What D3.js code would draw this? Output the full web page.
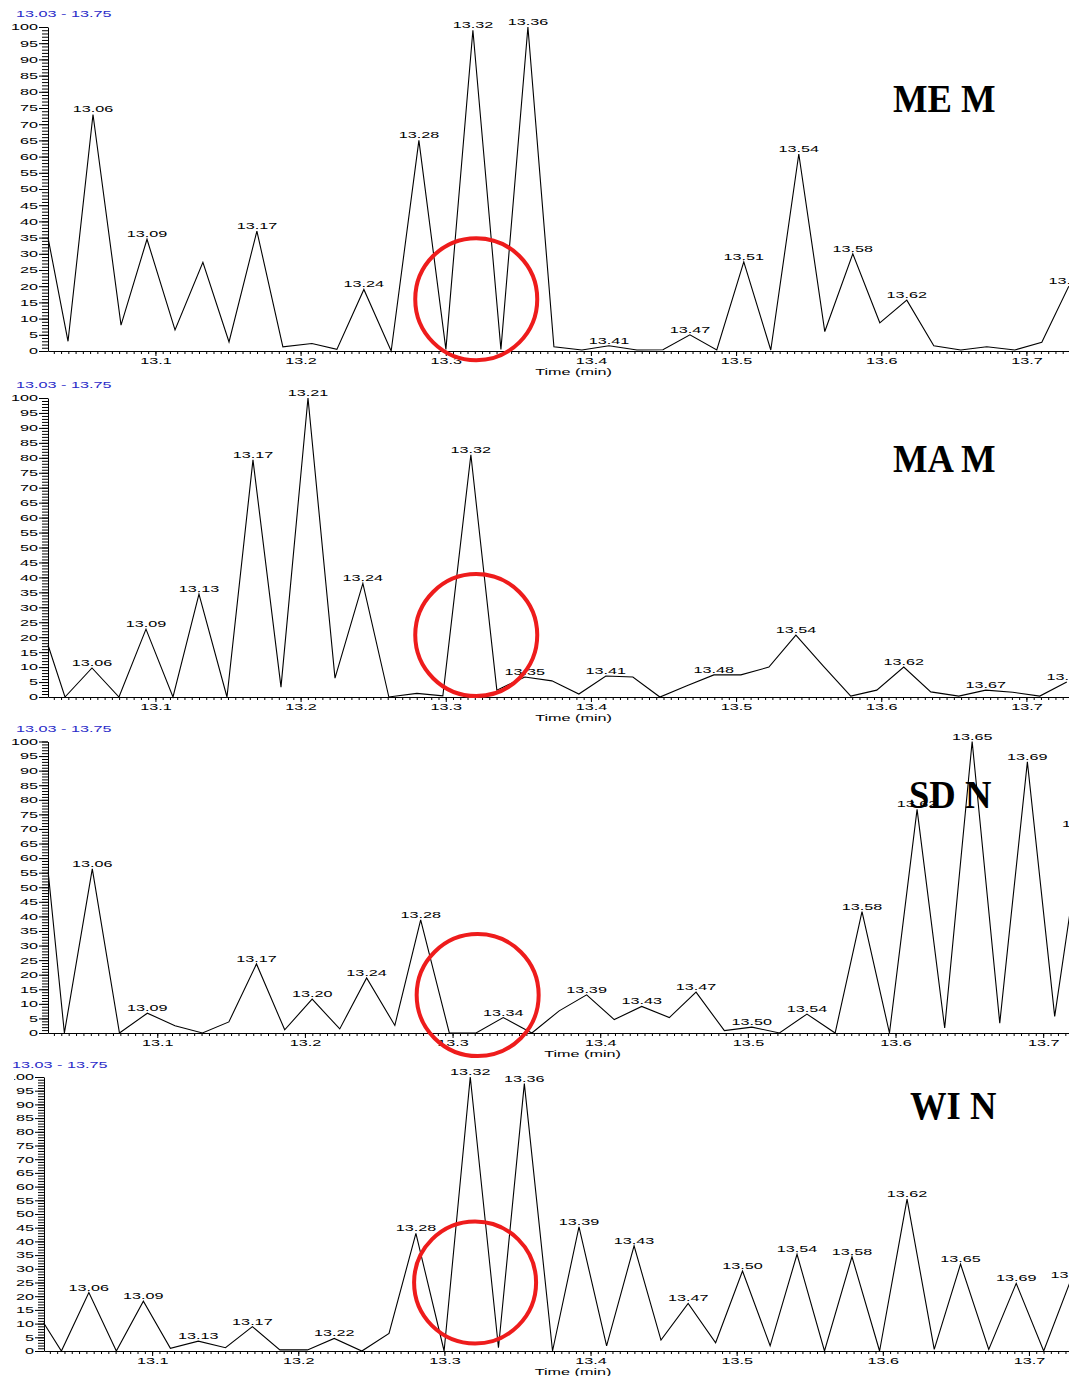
<!DOCTYPE html>
<html>
<head>
<meta charset="utf-8">
<script src="https://cdn.jsdelivr.net/npm/d3@7"></script>
<style>
  body { margin: 0; background: #fff; }
  svg { display: block; }
</style>
</head>
<body>
<div class="graphic"></div>
<script>
// ---- data (time in min, relative abundance %) ----
const meTimes = [13.0260, 13.0398, 13.0570, 13.0763, 13.0942, 13.1135, 13.1327, 13.1507, 13.1699, 13.1878,
  13.2078, 13.2250, 13.2436, 13.2624, 13.2815, 13.3001, 13.3187, 13.3380, 13.3566, 13.3745,
  13.3938, 13.4124, 13.4317, 13.4496, 13.4682, 13.4867, 13.5053, 13.5239, 13.5432, 13.5611,
  13.5804, 13.5990, 13.6176, 13.6362, 13.6548, 13.6727, 13.6920, 13.7106, 13.7292];
const meValues = [35, 3, 73, 8, 34.5, 6.5, 27.4, 2.8, 37, 1.3,
  2.3, 0.5, 19, 0, 65, 0.5, 99, 0.5, 100, 1.3,
  0.3, 1.6, 0.3, 0.4, 5, 0.3, 27.5, 0.3, 60.8, 6,
  30, 8.7, 15.7, 1.6, 0.3, 1.3, 0.3, 2.7, 20];
const mePeaks = ["13.06", "13.09", "13.17", "13.24", "13.28", "13.32", "13.36", "13.41", "13.47",
  "13.51", "13.54", "13.58", "13.62", "13.73"];

const maTimes = [13.0260, 13.0377, 13.0563, 13.0749, 13.0935, 13.1121, 13.1300, 13.1493, 13.1672, 13.1865,
  13.2051, 13.2237, 13.2429, 13.2608, 13.2801, 13.2980, 13.3173, 13.3352, 13.3545, 13.3731,
  13.3917, 13.4103, 13.4289, 13.4475, 13.4661, 13.4847, 13.5033, 13.5226, 13.5412, 13.5598,
  13.5790, 13.5969, 13.6155, 13.6341, 13.6534, 13.6720, 13.6906, 13.7092, 13.7278];
const maValues = [17.4, 0, 9.7, 0, 22.7, 0, 34.4, 0, 79.3, 3.3,
  100, 6.3, 38, 0, 1.2, 0.4, 81, 2.3, 6.7, 5.4,
  1, 7, 6.7, 0, 3.8, 7.4, 7.4, 10, 20.7, 10.5,
  0.3, 2.3, 10, 1.7, 0.3, 2.3, 1.6, 0.3, 5];
const maPeaks = ["13.06", "13.09", "13.13", "13.17", "13.21", "13.24", "13.32", "13.35", "13.41",
  "13.48", "13.54", "13.62", "13.67", "13.73"];

const sdTimes = [13.0261, 13.0371, 13.0560, 13.0744, 13.0933, 13.1120, 13.1306, 13.1485, 13.1672, 13.1863,
  13.2049, 13.2236, 13.2418, 13.2609, 13.2784, 13.2978, 13.3159, 13.3343, 13.3537, 13.3722,
  13.3908, 13.4095, 13.4281, 13.4468, 13.4649, 13.4841, 13.5027, 13.5214, 13.5400, 13.5591,
  13.5773, 13.5959, 13.6146, 13.6333, 13.6519, 13.6706, 13.6893, 13.7078, 13.7265];
const sdValues = [55.3, 0, 56.3, 0, 6.8, 2.5, 0, 3.8, 23.7, 1.1,
  11.6, 1.4, 18.9, 2.6, 38.8, 0, 0, 5.3, 0, 7.6,
  13.1, 4.6, 9.1, 5.3, 14, 0.8, 2, 0, 6.5, 0,
  41.6, 0, 76.7, 1.7, 100, 3.4, 93, 5.7, 70];
const sdPeaks = ["13.06", "13.09", "13.17", "13.20", "13.24", "13.28", "13.34", "13.39", "13.43",
  "13.47", "13.50", "13.54", "13.58", "13.62", "13.65", "13.69", "13.73"];

const wiTimes = [13.0257, 13.0379, 13.0567, 13.0755, 13.0940, 13.1125, 13.1316, 13.1502, 13.1686, 13.1874,
  13.2063, 13.2246, 13.2435, 13.2621, 13.2805, 13.2998, 13.3177, 13.3370, 13.3547, 13.3740,
  13.3921, 13.4110, 13.4298, 13.4482, 13.4668, 13.4856, 13.5040, 13.5229, 13.5413, 13.5601,
  13.5789, 13.5978, 13.6166, 13.6352, 13.6532, 13.6725, 13.6913, 13.7101, 13.7287];
const wiValues = [10.3, 0, 21.3, 0, 18.2, 1, 3.6, 1.2, 8.9, 0.4,
  0.4, 4.6, 0, 6.4, 42.9, 0, 100, 1.2, 97.6, 0,
  45.3, 1.9, 38.4, 4, 17.4, 3, 29.2, 1.9, 35.3, 0,
  34.4, 0, 55.4, 0.6, 31.7, 0.6, 24.7, 0, 26];
const wiPeaks = ["13.06", "13.09", "13.13", "13.17", "13.22", "13.28", "13.32", "13.36", "13.39",
  "13.43", "13.47", "13.50", "13.54", "13.58", "13.62", "13.65", "13.69", "13.73"];

const sampleNames = ["ME M", "MA M", "SD N", "WI N"];
const rangeLabel = "13.03 - 13.75";
const timeDomain = [13.026, 13.75];
const majorTimeTicks = [13.1, 13.2, 13.3, 13.4, 13.5, 13.6, 13.7];
// red highlight rings (time, abundance at centre)
const ringTimes = [13.321, 13.321, 13.317, 13.321];
const ringValues = [16, 20.7, 13, 25];

// ---- layout ----
const SX = 1.8; // the small instrument lettering is stretched wide
const svg = d3.select(".graphic")
  .append("svg")
  .attr("width", 1069)
  .attr("height", 1376);

const panels = [
  {times: meTimes, values: meValues, peaks: mePeaks, x0: 48, x1: 1099, yTop: 27, yBot: 351, titleXY: [893, 112], rangeXY: [16, 17], clipLeft: 0},
  {times: maTimes, values: maValues, peaks: maPeaks, x0: 48, x1: 1099, yTop: 398, yBot: 697, titleXY: [893, 472], rangeXY: [16, 388], clipLeft: 0},
  {times: sdTimes, values: sdValues, peaks: sdPeaks, x0: 48, x1: 1117, yTop: 741.5, yBot: 1033, titleXY: [909, 808], rangeXY: [16, 732], clipLeft: 0},
  {times: wiTimes, values: wiValues, peaks: wiPeaks, x0: 44, x1: 1102, yTop: 1077, yBot: 1351, titleXY: [910, 1119], rangeXY: [12, 1068], clipLeft: 14}
];

// clip used to mimic the cropped left edge on the last panel
svg.append("clipPath").attr("id", "leftcrop")
  .append("rect").attr("x", 14).attr("y", 0).attr("width", 1069).attr("height", 1376);

const wide = (cx, cy) => `translate(${cx},${cy}) scale(${SX},1)`;

const drawPanel = (p, i) => {
  const x = d3.scaleLinear().domain(timeDomain).range([p.x0, p.x1]);
  const y = d3.scaleLinear().domain([0, 100]).range([p.yBot, p.yTop]);
  const g = svg.append("g");

  // y ruler: minor every 1 %, major every 5 %
  g.append("g")
    .attr("transform", `translate(${p.x0},0)`)
    .call(d3.axisLeft(y).tickValues(d3.range(0, 101, 1)).tickSize(6).tickFormat(""))
    .call(a => a.select(".domain").remove());

  const yAx = g.append("g")
    .attr("clip-path", p.clipLeft ? "url(#leftcrop)" : null)
    .append("g")
    .attr("transform", `translate(${p.x0},0)`)
    .call(d3.axisLeft(y).tickValues(d3.range(0, 101, 5)).tickSize(9).tickSizeOuter(0));
  yAx.selectAll("path, line").attr("stroke", "#000");
  yAx.selectAll("text")
    .attr("x", -10 / SX)
    .attr("transform", `scale(${SX},1)`)
    .attr("font-size", 9)
    .attr("font-family", "'Liberation Sans', Arial, sans-serif")
    .attr("fill", "#000");

  // x axis: minor every 0.005 min, labelled every 0.1 min
  g.append("g")
    .attr("transform", `translate(0,${p.yBot})`)
    .call(d3.axisBottom(x).tickValues(d3.range(2606, 2751).map(k => k / 200)).tickSize(3).tickFormat(""))
    .call(a => a.select(".domain").remove());

  const xAx = g.append("g")
    .attr("transform", `translate(0,${p.yBot})`)
    .call(d3.axisBottom(x).tickValues(majorTimeTicks).tickSize(5).tickSizeOuter(0).tickPadding(2)
      .tickFormat(d => d.toFixed(1)));
  xAx.selectAll("text")
    .attr("transform", `scale(${SX},1)`)
    .attr("font-size", 9)
    .attr("font-family", "'Liberation Sans', Arial, sans-serif")
    .attr("fill", "#000");

  g.append("text")
    .attr("transform", wide((p.x0 + p.x1) / 2, p.yBot + 24))
    .attr("text-anchor", "middle")
    .attr("font-size", 9)
    .attr("font-family", "'Liberation Sans', Arial, sans-serif")
    .text("Time (min)");

  g.append("text")
    .attr("transform", wide(p.rangeXY[0], p.rangeXY[1]))
    .attr("font-size", 9)
    .attr("font-family", "'Liberation Sans', Arial, sans-serif")
    .attr("fill", "#2a2ac8")
    .text(rangeLabel);

  // trace
  const pts = p.times.map((t, k) => ({t: t, v: p.values[k]}));
  g.append("path")
    .datum(pts)
    .attr("fill", "none")
    .attr("stroke", "#000")
    .attr("stroke-width", 1.1)
    .attr("stroke-linejoin", "miter")
    .attr("d", d3.line().x(d => x(d.t)).y(d => y(d.v)));

  // peak retention-time labels sit on the nearest sampled apex
  g.selectAll(".peak")
    .data(p.peaks)
    .join("text")
      .attr("class", "peak")
      .attr("transform", s => {
        const pt = d3.least(pts, d => Math.abs(d.t - +s));
        return wide(x(pt.t), y(pt.v) - 2);
      })
      .attr("text-anchor", "middle")
      .attr("font-size", 9)
      .attr("font-family", "'Liberation Sans', Arial, sans-serif")
      .text(s => s);

  g.append("circle")
    .attr("cx", x(ringTimes[i]))
    .attr("cy", y(ringValues[i]))
    .attr("r", 61)
    .attr("fill", "none")
    .attr("stroke", "#ee1c1c")
    .attr("stroke-width", 4);

  g.append("text")
    .attr("transform", `translate(${p.titleXY[0]},${p.titleXY[1]}) scale(0.915,1)`)
    .attr("font-family", "'Liberation Serif', 'Times New Roman', serif")
    .attr("font-weight", "bold")
    .attr("font-size", 40)
    .text(sampleNames[i]);
};

panels.forEach(drawPanel);
</script>
</body>
</html>
